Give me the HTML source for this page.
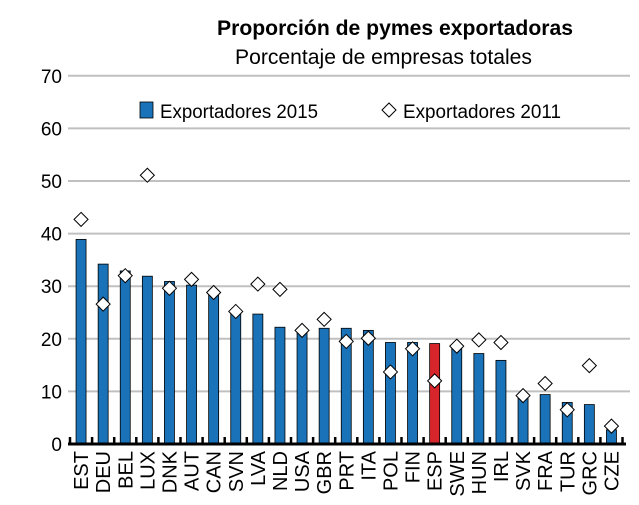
<!DOCTYPE html>
<html><head><meta charset="utf-8"><style>
html,body{margin:0;padding:0;background:#fff;}
svg{display:block;font-family:"Liberation Sans",Arial,sans-serif;}
</style></head><body>
<svg id="chart" width="639" height="505">
<text x="217" y="35" font-size="21" font-weight="bold" textLength="356" lengthAdjust="spacingAndGlyphs">Proporción de pymes exportadoras</text>
<text x="235" y="64" font-size="21" textLength="297" lengthAdjust="spacingAndGlyphs">Porcentaje de empresas totales</text>
<g id="grid"></g>
<g id="bars"></g>
<g id="marks"></g>
<g id="axis"></g>
<g>
<rect x="140" y="102" width="13" height="16" fill="#1a73b8" stroke="#000" stroke-width="0.8"/>
<text x="160" y="118" font-size="19" textLength="158" lengthAdjust="spacingAndGlyphs">Exportadores 2015</text>
<path d="M389,103 L396,110 L389,117 L382,110 Z" fill="#fff" stroke="#000" stroke-width="1"/>
<text x="403" y="118" font-size="19" textLength="158" lengthAdjust="spacingAndGlyphs">Exportadores 2011</text>
</g>
</svg>
<script>
const categories=["EST","DEU","BEL","LUX","DNK","AUT","CAN","SVN","LVA","NLD","USA","GBR","PRT","ITA","POL","FIN","ESP","SWE","HUN","IRL","SVK","FRA","TUR","GRC","CZE"];
const values2015=[38.9,34.2,32.9,31.9,30.9,30.2,28.6,25.2,24.7,22.2,22.0,22.0,22.0,21.6,19.3,19.3,19.1,18.5,17.2,15.9,9.0,9.4,7.9,7.5,2.7];
const values2011=[42.7,26.6,32.0,51.1,29.6,31.3,28.8,25.2,30.4,29.4,21.6,23.7,19.5,20.1,13.7,18.1,12.0,18.6,19.8,19.3,9.2,11.5,6.5,14.9,3.4];
const yTicks=[0,10,20,30,40,50,60,70];
const NS="http://www.w3.org/2000/svg";
const x0=70,step=22.1,y0=444,pxPer=5.26,xEnd=630;
const y=v=>y0-v*pxPer;
const cx=i=>x0+step*i+step/2;
function mk(t,a,p){const e=document.createElementNS(NS,t);for(const k in a)e.setAttribute(k,a[k]);p.appendChild(e);return e;}
const grid=document.getElementById('grid'),bars=document.getElementById('bars'),marks=document.getElementById('marks'),axis=document.getElementById('axis');
yTicks.forEach(v=>{
  if(v>0){const l=mk('line',{x1:68,x2:xEnd,y1:y(v),y2:y(v),stroke:'#c0c0c0','stroke-width':2},grid);
  
  }
  const t=mk('text',{x:62,y:y(v)+7,'text-anchor':'end','font-size':19},grid);t.textContent=v;
  
  
});
categories.forEach((c,i)=>{
  const b=mk('rect',{x:cx(i)-5,y:y(values2015[i]),width:10,height:values2015[i]*pxPer,fill:c==='ESP'?'#d7262b':'#1a73b8',stroke:'#000','stroke-width':0.8},bars);
  
  
  const yy=y(values2011[i]),xx=cx(i);
  const d=mk('path',{d:`M${xx},${yy-7} L${xx+7},${yy} L${xx},${yy+7} L${xx-7},${yy} Z`,fill:'#fff',stroke:'#000','stroke-width':1},marks);
  
  
  const t=mk('text',{transform:`translate(${xx+7},451) rotate(-90)`,'text-anchor':'end','font-size':20},axis);
  t.textContent=c;
  
  
});
const ax=mk('line',{x1:68,x2:xEnd-4,y1:y0,y2:y0,stroke:'#000','stroke-width':3},axis);


for(let i=0;i<=categories.length;i++){
  const tk=mk('line',{x1:x0+step*i,x2:x0+step*i,y1:y0,y2:y0-7,stroke:'#000','stroke-width':2.5},axis);
  
  
}
</script>
</body></html>
